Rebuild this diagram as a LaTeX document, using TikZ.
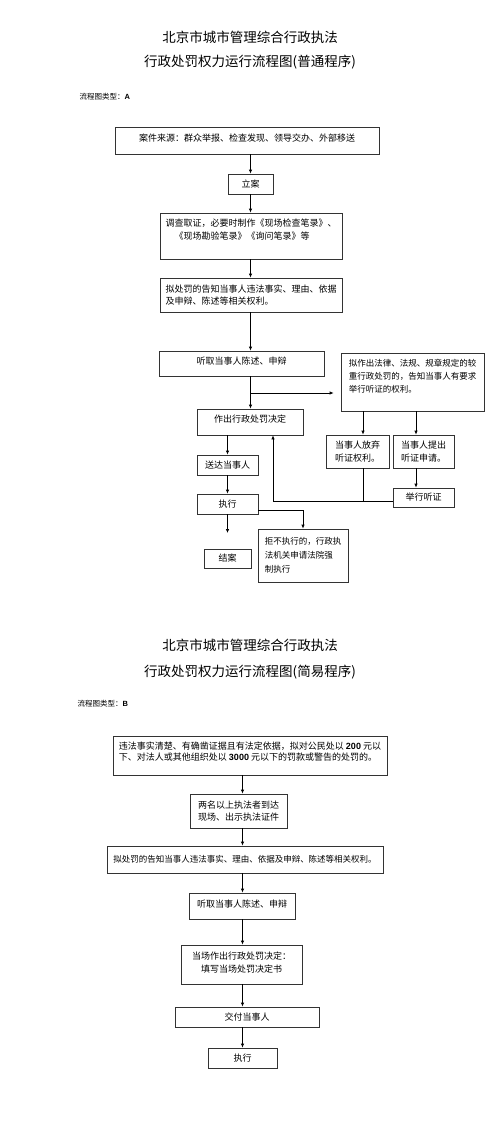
\documentclass[tikz,border=0pt]{standalone}
\usepackage{fontspec}
\setmainfont{Noto Sans CJK SC}
\setsansfont{Liberation Sans}
\usetikzlibrary{arrows.meta}

\begin{document}
\begin{tikzpicture}[x=1pt,y=-1pt,
  box/.style={draw=black!80,line width=0.7pt,inner sep=2pt,align=center,
    font=\fontsize{9}{13}\selectfont},
  lbox/.style={box,align=left},
  arr/.style={line width=0.7pt,-{Latex[length=4pt,width=3.5pt]}},
  ln/.style={line width=0.7pt},
  ttl/.style={font=\fontsize{13.5}{16}\selectfont},
  kind/.style={anchor=west,font=\fontsize{7.5}{9}\selectfont}]
 \useasboundingbox (0,0) rectangle (500,1127);
 % type A
 \node[ttl] (titleA1) at (250,37) {北京市城市管理综合行政执法};
 \node[ttl] (titleA2) at (250,62) {行政处罚权力运行流程图(普通程序)};
 \node[kind] (kindA) at (76,97) {流程图类型：\textsf{\textbf{A}}};
 \node[box,minimum width=264pt,minimum height=27pt,text depth=5pt] (source) at (247,140.5) {案件来源：群众举报、检查发现、领导交办、外部移送};
 \node[box,minimum width=45pt,minimum height=20pt] (filing) at (250.5,184) {立案};
 \node[lbox,minimum width=182pt,minimum height=46pt,text depth=13pt] (investigate) at (251,236) {调查取证，必要时制作《现场检查笔录》、\\\hspace*{1em}《现场勘验笔录》《询问笔录》等};
 \node[lbox,minimum width=182pt,minimum height=34pt,font=\fontsize{9}{12}\selectfont] (notify) at (251,295) {拟处罚的告知当事人违法事实、理由、依据\\及申辩、陈述等相关权利。};
 \node[box,minimum width=165pt,minimum height=25pt,text depth=6pt] (hearstate) at (241.5,363.5) {听取当事人陈述、申辩};
 \node[lbox,minimum width=143pt,minimum height=58pt,text depth=13pt,font=\fontsize{8.5}{13}\selectfont] (rights) at (412.5,382) {拟作出法律、法规、规章规定的较\\重行政处罚的，告知当事人有要求\\举行听证的权利。};
 \node[box,minimum width=106pt,minimum height=26pt,text depth=7pt] (decide) at (250,422) {作出行政处罚决定};
 \node[lbox,minimum width=63pt,minimum height=33pt] (waive) at (357.5,451.5) {当事人放弃\\听证权利。};
 \node[lbox,minimum width=61pt,minimum height=33pt] (apply) at (423.5,451.5) {当事人提出\\听证申请。};
 \node[box,minimum width=61pt,minimum height=19pt] (hearing) at (423.5,497.5) {举行听证};
 \node[box,minimum width=61pt,minimum height=20pt] (deliver) at (227.5,465) {送达当事人};
 \node[box,minimum width=61pt,minimum height=20pt] (execute) at (227.5,504) {执行};
 \node[lbox,minimum width=90pt,minimum height=53pt,font=\fontsize{8.5}{14}\selectfont] (enforce) at (303,555.5) {拒不执行的，行政执\\法机关申请法院强\\制执行};
 \node[box,minimum width=47pt,minimum height=19pt] (close) at (227.5,558.5) {结案};
 \coordinate (spineA) at (250.5,0);
 \draw[arr] (spineA |- source.south) -- (spineA |- filing.north);
 \draw[arr] (spineA |- filing.south) -- (spineA |- investigate.north);
 \draw[arr] (spineA |- investigate.south) -- (spineA |- notify.north);
 \draw[arr] (spineA |- notify.south) -- (spineA |- hearstate.north);
 \draw[arr] (spineA |- hearstate.south) -- (spineA |- decide.north);
 \coordinate (fork) at (250.5,393);
 \draw[arr,shorten >=7pt] (fork) -- (rights.west |- fork);
 \coordinate (waivein) at ([xshift=5.5pt]waive.north);
 \coordinate (applyin) at ([xshift=-7.5pt]apply.north);
 \draw[arr] (waivein |- rights.south) -- (waivein);
 \draw[arr] (applyin |- rights.south) -- (applyin);
 \draw[arr] (applyin |- apply.south) -- (applyin |- hearing.north);
 \coordinate (merge) at (waivein |- 0,501);
 \draw[ln] (waivein |- waive.south) -- (merge);
 \coordinate (backup) at ([xshift=23pt]decide.south);
 \draw[arr] (hearing.west |- merge) -| (backup);
 \draw[arr] (deliver.north |- decide.south) -- (deliver.north);
 \draw[arr] (deliver.south) -- (execute.north);
 \coordinate (stop) at (227.5,533);
 \draw[arr] (execute.south) -- (stop);
 \draw[arr] ([yshift=-6pt]execute.east) -| (enforce.north);
 % type B
 \node[ttl] (titleB1) at (250,645) {北京市城市管理综合行政执法};
 \node[ttl] (titleB2) at (250,672) {行政处罚权力运行流程图(简易程序)};
 \node[kind] (kindB) at (74,704) {流程图类型：\textsf{\textbf{B}}};
 \node[lbox,minimum width=274pt,minimum height=39pt,text depth=8pt,font=\fontsize{9}{11}\selectfont] (case) at (250,755.5) {违法事实清楚、有确凿证据且有法定依据，拟对公民处以 \textsf{\textbf{200}} 元以\\下、对法人或其他组织处以 \textsf{\textbf{3000}} 元以下的罚款或警告的处罚的。};
 \node[box,minimum width=97pt,minimum height=34pt,font=\fontsize{9}{12}\selectfont] (officers) at (238.5,811) {两名以上执法者到达\\现场、出示执法证件};
 \node[box,minimum width=276pt,minimum height=27pt,font=\fontsize{8.5}{12}\selectfont] (notifyB) at (245,859.5) {拟处罚的告知当事人违法事实、理由、依据及申辩、陈述等相关权利。};
 \node[box,minimum width=106pt,minimum height=26pt,text depth=5pt] (hearB) at (242,906) {听取当事人陈述、申辩};
 \node[box,minimum width=121pt,minimum height=39pt,text depth=5pt] (spot) at (241.5,964.5) {当场作出行政处罚决定：\\填写当场处罚决定书};
 \node[box,minimum width=144pt,minimum height=20pt] (handover) at (247,1017) {交付当事人};
 \node[box,minimum width=69pt,minimum height=20pt] (executeB) at (242.5,1058) {执行};
 \coordinate (spineB) at (242.5,0);
 \draw[arr] (spineB |- case.south) -- (spineB |- officers.north);
 \draw[arr] (spineB |- officers.south) -- (spineB |- notifyB.north);
 \draw[arr] (spineB |- notifyB.south) -- (spineB |- hearB.north);
 \draw[arr] (spineB |- hearB.south) -- (spineB |- spot.north);
 \draw[arr] (spineB |- spot.south) -- (spineB |- handover.north);
 \draw[arr] (spineB |- handover.south) -- (spineB |- executeB.north);
\end{tikzpicture}
\end{document}
